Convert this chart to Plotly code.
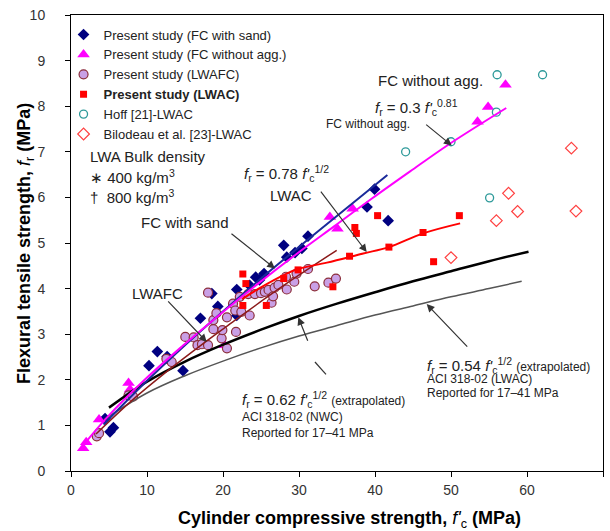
import plotly.graph_objects as go

# ---------------- data ----------------
fc_sand_x = [4.48, 5.13, 5.58, 10.26, 11.36, 12.65, 14.74, 17.03, 18.53, 19.32, 21.81, 21.81, 23.51, 24.30,
             24.80, 25.40, 27.99, 28.39, 29.48, 30.38, 31.18, 38.95, 39.94, 41.73]
fc_sand_y = [1.15, 0.86, 0.95, 2.31, 2.62, 2.51, 2.20, 3.35, 3.89, 3.61, 3.98, 3.41, 4.07, 4.25,
             4.19, 4.33, 4.95, 4.69, 4.79, 4.88, 5.15, 5.79, 6.18, 5.49]

fc_noagg_x = [1.60, 2.00, 3.69, 7.57, 7.77, 20.22, 34.06, 35.06, 37.05, 53.49, 54.88, 57.17]
fc_noagg_y = [0.50, 0.63, 1.13, 1.93, 1.79, 2.76, 5.57, 5.31, 5.75, 7.66, 7.98, 8.47]

lwafc_x = [3.39, 3.69, 7.57, 8.17, 12.55, 13.25, 15.04, 16.14, 16.64, 17.23, 18.03, 18.03, 18.73, 18.73,
           19.13, 19.82, 19.92, 20.52, 20.52, 21.32, 21.61, 21.71, 22.21, 22.41, 23.31, 23.51, 24.20,
           25.00, 25.50, 25.99, 26.39, 26.59, 26.79, 27.29, 28.29, 28.39, 29.38, 29.68, 31.18, 32.07,
           33.87, 34.86]
lwafc_y = [0.76, 0.83, 1.66, 1.63, 2.46, 2.39, 2.94, 2.93, 2.76, 2.78, 3.91, 2.76, 3.31, 3.11,
           3.46, 2.91, 3.09, 3.37, 2.69, 3.67, 3.52, 3.05, 3.82, 3.49, 3.88, 3.41, 3.88,
           3.90, 3.93, 3.97, 3.69, 3.83, 4.02, 4.08, 4.26, 3.98, 4.15, 4.33, 4.43, 4.05,
           4.13, 4.22]

lwac_x = [22.61, 23.01, 22.61, 25.70, 27.99, 29.88, 34.46, 36.65, 37.35, 37.55, 40.34, 41.83, 46.32, 47.71, 51.10]
lwac_y = [4.32, 4.11, 3.63, 3.63, 4.22, 4.41, 4.04, 4.71, 5.34, 5.21, 5.60, 4.91, 5.23, 4.59, 5.60]

hoff_x = [44.03, 50.00, 55.08, 55.97, 56.07, 62.05]
hoff_y = [7.00, 7.22, 5.99, 7.87, 8.69, 8.69]

bil_x = [50.00, 55.97, 57.57, 58.76, 65.84, 66.44]
bil_y = [4.68, 5.49, 6.09, 5.69, 7.08, 5.70]

# trend lines and ACI 318-02 code curves
sand_fit_x = [4.28, 9.76, 14.74, 19.72, 24.70, 29.68, 34.66, 41.63]
sand_fit_y = [1.02, 1.94, 2.72, 3.46, 4.18, 4.87, 5.55, 6.49]
noagg_fit_x = [1.69, 4.78, 9.76, 14.74, 19.72, 24.70, 29.68, 34.66, 39.64, 44.62, 49.60, 57.27]
noagg_fit_y = [0.58, 1.18, 2.01, 2.75, 3.45, 4.12, 4.76, 5.37, 5.98, 6.57, 7.15, 7.96]
lwafc_fit_x = [3.29, 7.77, 12.75, 17.43, 21.71, 25.70, 29.68, 34.96]
lwafc_fit_y = [0.81, 1.51, 2.20, 2.80, 3.32, 3.80, 4.26, 4.84]
lwac_fit_x = [22.51, 24.70, 28.39, 30.08, 33.67, 38.45, 41.83, 46.32, 51.20]
lwac_fit_y = [3.77, 4.00, 4.33, 4.44, 4.57, 4.77, 4.91, 5.21, 5.43]
aci_nwc_x = [5, 10, 15, 20, 25, 30, 35, 40, 45, 50, 55, 60.2]
aci_nwc_y = [1.39, 1.96, 2.40, 2.77, 3.10, 3.40, 3.67, 3.92, 4.16, 4.38, 4.60, 4.81]
aci_lwac_x = [4.3, 10, 15, 20, 25, 30, 35, 40, 45, 50, 55, 59.3]
aci_lwac_y = [1.12, 1.71, 2.09, 2.41, 2.70, 2.96, 3.19, 3.42, 3.62, 3.82, 4.00, 4.16]

x_ticks = [0, 10, 20, 30, 40, 50, 60, 70]
y_ticks = [0, 1, 2, 3, 4, 5, 6, 7, 8, 9, 10]

# ---------------- figure ----------------
fig = go.Figure()

fig.add_trace(go.Scatter(x=fc_sand_x, y=fc_sand_y, mode="markers", name="Present study (FC with sand)",
                         marker=dict(symbol="diamond", size=9, color="#000080")))
fig.add_trace(go.Scatter(x=fc_noagg_x, y=fc_noagg_y, mode="markers", name="Present study (FC without agg.)",
                         marker=dict(symbol="triangle-up", size=11, color="#FF00FF")))
fig.add_trace(go.Scatter(x=lwafc_x, y=lwafc_y, mode="markers", name="Present study (LWAFC)",
                         marker=dict(symbol="circle", size=9, color="#C9A0E6",
                                     line=dict(color="#8B2D3A", width=1.2))))
fig.add_trace(go.Scatter(x=lwac_x, y=lwac_y, mode="markers", name="<b>Present study (LWAC)</b>",
                         marker=dict(symbol="square", size=7, color="#FF0000")))
fig.add_trace(go.Scatter(x=hoff_x, y=hoff_y, mode="markers", name="Hoff [21]-LWAC",
                         marker=dict(symbol="circle-open", size=8, color="#2E9A9A", line=dict(width=1.3))))
fig.add_trace(go.Scatter(x=bil_x, y=bil_y, mode="markers", name="Bilodeau et al. [23]-LWAC",
                         marker=dict(symbol="diamond-open", size=9, color="#FF4040", line=dict(width=1.2))))

line_specs = [
    (aci_lwac_x, aci_lwac_y, "#555555", 1.5),
    (aci_nwc_x, aci_nwc_y, "#000000", 2.5),
    (lwafc_fit_x, lwafc_fit_y, "#8B1A1A", 1.5),
    (lwac_fit_x, lwac_fit_y, "#FF0000", 2),
    (sand_fit_x, sand_fit_y, "#1A2A9A", 2),
    (noagg_fit_x, noagg_fit_y, "#FF00FF", 2),
]
for lx, ly, c, w in line_specs:
    fig.add_trace(go.Scatter(x=lx, y=ly, mode="lines", showlegend=False, hoverinfo="skip",
                             line=dict(color=c, width=w, shape="spline")))

TXT = "#222222"
FONT = "Liberation Sans, Arial, sans-serif"

def txt(x, y, s, size=15, anchor="left"):
    fig.add_annotation(x=x, y=y, xref="x", yref="y", text=s, showarrow=False,
                       xanchor=anchor, yanchor="middle", font=dict(family=FONT, size=size, color=TXT))

def arrow(x, y, ax, ay):
    fig.add_annotation(x=x, y=y, xref="x", yref="y", text="", showarrow=True, ax=ax, ay=ay,
                       arrowhead=2, arrowsize=1.3, arrowwidth=1.2, arrowcolor="#333333")

fr = "<i>f</i><sub>r</sub>"
fc = "<i>f'</i><sub>c</sub>"

txt(47.24, 8.57, "FC without agg.", 15, "center")
txt(39.74, 7.97, fr + " = 0.3 " + fc + "<sup>0.81</sup>", 15)
txt(44.87, 7.60, "FC without agg.", 12, "right")
txt(22.46, 6.53, fr + " = 0.78 " + fc + "<sup>1/2</sup>", 15)
txt(28.95, 6.05, "LWAC", 15, "center")
txt(15.0, 5.46, "FC with sand", 15, "center")
txt(11.32, 3.90, "LWAFC", 15, "center")
txt(2.24, 6.89, "LWA Bulk density", 15)
txt(2.24, 6.45, "\u2217 400 kg/m<sup>3</sup>", 15)
txt(2.24, 6.01, "\u2020  800 kg/m<sup>3</sup>", 15)

txt(22.24, 1.56, fr + " = 0.62 " + fc + "<sup>1/2</sup> <span style='font-size:12px'>(extrapolated)</span>", 15)
txt(22.24, 1.19, "ACI 318-02 (NWC)", 12)
txt(22.24, 0.84, "Reported for 17\u201341 MPa", 12)
txt(46.58, 2.32, fr + " = 0.54 " + fc + "<sup>1/2</sup> <span style='font-size:12px'>(extrapolated)</span>", 15)
txt(46.58, 2.01, "ACI 318-02 (LWAC)", 12)
txt(46.58, 1.70, "Reported for 17\u201341 MPa", 12)

arrow(50.09, 7.14, -27, -22)
arrow(38.91, 4.80, -47, -62)
arrow(26.84, 4.44, -45, -36)
arrow(17.86, 2.83, -40, -42)
arrow(46.80, 3.66, 42, 44)
arrow(29.91, 3.37, 10, 25)
fig.add_shape(type="line", xref="x", yref="y", x0=32.1, y0=2.39, x1=33.55, y1=2.12,
              line=dict(color="#333333", width=1.2))

# y-axis title (placed as a rotated annotation for exact position)
fig.add_annotation(x=-0.0865, y=0.5, xref="paper", yref="paper", showarrow=False, textangle=-90,
                   xanchor="center", yanchor="middle",
                   text="<b>Flexural tensile strength, </b>" + fr + "<b> (MPa)</b>",
                   font=dict(family=FONT, size=18, color="#000"))

tick_font = dict(family="Liberation Sans Narrow, Arial Narrow, Liberation Sans, sans-serif", size=14, color="#333333")

fig.update_xaxes(range=[0, 70], tickvals=x_ticks, ticks="outside", ticklen=5, tickcolor="#000",
                 showline=True, linecolor="#000", linewidth=1, mirror=True, showgrid=False, zeroline=False,
                 tickfont=tick_font, ticklabelstandoff=1, automargin=False,
                 title=dict(text="&nbsp;" * 5 + "<b>Cylinder compressive strength, </b>" + fc + "<b> (MPa)</b>",
                            font=dict(family=FONT, size=18, color="#000"), standoff=15))
fig.update_yaxes(range=[0, 10], tickvals=y_ticks, ticks="outside", ticklen=5, tickcolor="#000",
                 showline=True, linecolor="#000", linewidth=1, mirror=True, showgrid=False, zeroline=False,
                 tickfont=tick_font, ticklabelstandoff=17, automargin=False)

fig.update_layout(
    width=610, height=531,
    margin=dict(l=71, r=7, t=15, b=60, autoexpand=False),
    paper_bgcolor="white", plot_bgcolor="white",
    showlegend=True,
    legend=dict(x=-0.014, y=0.99, xanchor="left", yanchor="top", bgcolor="rgba(0,0,0,0)",
                font=dict(family=FONT, size=13, color=TXT), tracegroupgap=0, itemwidth=30),
)

fig.write_html("out.html", config={"displayModeBar": False},
               post_script="document.body.style.margin='0';document.body.style.padding='0';")
